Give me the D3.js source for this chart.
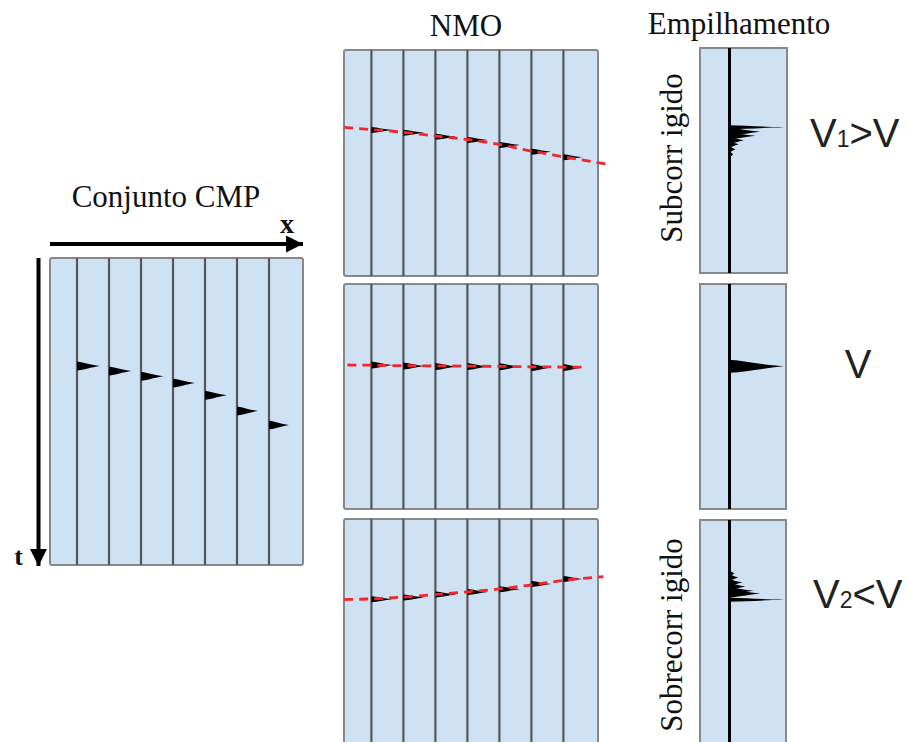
<!DOCTYPE html>
<html>
<head>
<meta charset="utf-8">
<script src="https://cdn.jsdelivr.net/npm/d3@7/dist/d3.min.js"></script>
<style>
  html, body { margin: 0; padding: 0; background: #ffffff; }
  svg { display: block; }
</style>
</head>
<body>
<svg id="chart" width="909" height="742"></svg>
<script>
// ---- Data -------------------------------------------------------------
// Trace numbers within each gather (offset order)
const traceIdx = [1, 2, 3, 4, 5, 6, 7];

// CMP gather: reflection arrival times (s) and wavelet amplitudes
const cmpTimes = [0.352, 0.368, 0.385, 0.407, 0.447, 0.498, 0.544];
const cmpAmps  = [0.42, 0.41, 0.41, 0.40, 0.40, 0.38, 0.36];

// NMO-corrected gathers (times in s) for the three stacking velocities
const nmoUnderTimes   = [0.354, 0.366, 0.384, 0.398, 0.420, 0.450, 0.475];
const nmoCorrectTimes = [0.360, 0.364, 0.367, 0.367, 0.368, 0.371, 0.371];
const nmoOverTimes    = [0.357, 0.349, 0.336, 0.324, 0.312, 0.289, 0.267];
const nmoAmps         = [0.38, 0.38, 0.38, 0.37, 0.37, 0.36, 0.34];

// Residual moveout guides (trace position, time in s)
const guideUnderX   = [0.15, 1, 2, 3, 4, 5, 6, 7, 8.5];
const guideUnderT   = [0.342, 0.352, 0.364, 0.381, 0.396, 0.418, 0.447, 0.472, 0.509];
const guideCorrectX = [0.25, 1, 2, 3, 4, 5, 6, 7, 7.65];
const guideCorrectT = [0.360, 0.361, 0.363, 0.364, 0.365, 0.366, 0.368, 0.369, 0.370];
const guideOverX    = [0.15, 1, 2, 3, 4, 5, 6, 7, 8.25];
const guideOverT    = [0.358, 0.355, 0.347, 0.336, 0.324, 0.311, 0.293, 0.273, 0.256];

// Stacked traces: component times (s), amplitudes and thickness
const stackUnderT   = [0.352, 0.372, 0.390, 0.410, 0.428, 0.450, 0.472];
const stackUnderA   = [1.00, 0.56, 0.47, 0.26, 0.17, 0.11, 0.07];
const stackUnderH   = [4, 8, 7, 7, 6, 6, 6];
const stackCorrectT = [0.366];
const stackCorrectA = [0.99];
const stackCorrectH = [13];
const stackOverT    = [0.354, 0.327, 0.314, 0.296, 0.278, 0.256, 0.238];
const stackOverA    = [1.00, 0.56, 0.44, 0.29, 0.24, 0.16, 0.09];
const stackOverH    = [4, 8, 7, 7, 6, 6, 6];

// ---- Drawing ----------------------------------------------------------
const svg = d3.select("#chart");
const PANEL_FILL = "#cfe2f3";
const PANEL_STROKE = "#85898d";
const TRACE_STROKE = "#52575c";
const SERIF = "'Liberation Serif', 'Times New Roman', serif";
const SANS = "'Liberation Sans', Arial, sans-serif";

const ampScale = d3.scaleLinear().domain([0, 1]).range([0, 55]);

// Wavelet glyph: filled lobe pointing to the right from the trace line
function waveletPath(x, y, len, h) {
  const p = d3.path();
  p.moveTo(x, y - h / 2);
  p.bezierCurveTo(x + len * 0.3, y - h * 0.4, x + len * 0.6, y - h * 0.12, x + len, y);
  p.bezierCurveTo(x + len * 0.6, y + h * 0.14, x + len * 0.3, y + h * 0.45, x, y + h / 2);
  p.closePath();
  return p.toString();
}

// A gather panel: box, trace lines, wavelets, optional guide
function gather(opt) {
  const g = svg.append("g");
  const y = d3.scaleLinear().domain([0, 1]).range([opt.y0, opt.y1]);
  const x = d3.scaleLinear().domain([1, 7]).range(opt.traceRange);

  g.append("rect")
    .attr("x", opt.x0).attr("y", opt.y0)
    .attr("width", opt.x1 - opt.x0).attr("height", opt.y1 - opt.y0)
    .attr("rx", 2).attr("ry", 2)
    .attr("fill", PANEL_FILL).attr("stroke", PANEL_STROKE).attr("stroke-width", 2);

  g.selectAll("line.trace").data(traceIdx).join("line")
    .attr("class", "trace")
    .attr("x1", d => x(d)).attr("x2", d => x(d))
    .attr("y1", opt.y0).attr("y2", opt.y1)
    .attr("stroke", TRACE_STROKE).attr("stroke-width", 2.2);

  g.selectAll("path.wavelet").data(traceIdx).join("path")
    .attr("class", "wavelet")
    .attr("d", (d, i) => waveletPath(x(d), y(opt.times[i]), ampScale(opt.amps[i]), opt.wh))
    .attr("fill", "#000");

  if (opt.guideX) {
    const pts = opt.guideX.map((gx, i) => [gx, opt.guideT[i]]);
    const line = d3.line().x(d => x(d[0])).y(d => y(d[1])).curve(d3.curveMonotoneX);
    g.append("path")
      .attr("d", line(pts))
      .attr("fill", "none")
      .attr("stroke", "#f5262b")
      .attr("stroke-width", 2.8)
      .attr("stroke-dasharray", "9,6");
  }
}

// A stacked-trace panel
function stackPanel(opt) {
  const g = svg.append("g");
  const y = d3.scaleLinear().domain([0, 1]).range([opt.y0, opt.y1]);
  const tx = opt.traceX;

  g.append("rect")
    .attr("x", opt.x0).attr("y", opt.y0)
    .attr("width", opt.x1 - opt.x0).attr("height", opt.y1 - opt.y0)
    .attr("fill", PANEL_FILL).attr("stroke", PANEL_STROKE).attr("stroke-width", 2);

  g.append("line")
    .attr("x1", tx).attr("x2", tx).attr("y1", opt.y0).attr("y2", opt.y1)
    .attr("stroke", "#000").attr("stroke-width", 3);

  g.selectAll("path.spike").data(opt.times).join("path")
    .attr("class", "spike")
    .attr("d", (t, i) => waveletPath(tx, y(t), ampScale(opt.amps[i]), opt.heights[i]))
    .attr("fill", "#000");
}

// CMP gather
gather({
  x0: 50, x1: 303, y0: 258, y1: 565,
  traceRange: [77, 269],
  times: cmpTimes, amps: cmpAmps, wh: 9
});

// NMO gathers
const nmoBoxes = [[50, 276], [284, 509], [519, 744]];
gather({ x0: 344, x1: 598, y0: nmoBoxes[0][0], y1: nmoBoxes[0][1], traceRange: [371.4, 563.4],
  times: nmoUnderTimes, amps: nmoAmps, wh: 6, guideX: guideUnderX, guideT: guideUnderT });
gather({ x0: 344, x1: 598, y0: nmoBoxes[1][0], y1: nmoBoxes[1][1], traceRange: [371.4, 563.4],
  times: nmoCorrectTimes, amps: nmoAmps, wh: 7, guideX: guideCorrectX, guideT: guideCorrectT });
gather({ x0: 344, x1: 598, y0: nmoBoxes[2][0], y1: nmoBoxes[2][1], traceRange: [371.4, 563.4],
  times: nmoOverTimes, amps: nmoAmps, wh: 6, guideX: guideOverX, guideT: guideOverT });

// Stacked traces
stackPanel({ x0: 700, x1: 787, y0: 48, y1: 273, traceX: 729.5,
  times: stackUnderT, amps: stackUnderA, heights: stackUnderH });
stackPanel({ x0: 700, x1: 786, y0: 284, y1: 509, traceX: 729.5,
  times: stackCorrectT, amps: stackCorrectA, heights: stackCorrectH });
stackPanel({ x0: 700, x1: 786, y0: 520, y1: 745, traceX: 729.5,
  times: stackOverT, amps: stackOverA, heights: stackOverH });

// Axis arrows for the CMP gather
const defs = svg.append("defs");
defs.append("marker")
  .attr("id", "head").attr("viewBox", "0 0 10 10")
  .attr("refX", 10).attr("refY", 5)
  .attr("markerUnits", "userSpaceOnUse")
  .attr("markerWidth", 26).attr("markerHeight", 17)
  .attr("orient", "auto")
  .append("path").attr("d", "M0,0 L10,5 L0,10 Z").attr("fill", "#000");

svg.append("line")
  .attr("x1", 50).attr("y1", 244).attr("x2", 303).attr("y2", 244)
  .attr("stroke", "#000").attr("stroke-width", 4)
  .attr("marker-end", "url(#head)");
svg.append("line")
  .attr("x1", 38.5).attr("y1", 258).attr("x2", 38.5).attr("y2", 566)
  .attr("stroke", "#000").attr("stroke-width", 4)
  .attr("marker-end", "url(#head)");

// Labels
function label(txt, x, y, size, family, opts = {}) {
  const t = svg.append("text")
    .attr("x", x).attr("y", y)
    .attr("font-family", family).attr("font-size", size)
    .attr("fill", opts.fill || "#111")
    .attr("text-anchor", opts.anchor || "middle")
    .attr("font-weight", opts.weight || "normal")
    .text(txt);
  if (opts.rotate) t.attr("transform", `rotate(${opts.rotate},${x},${y})`);
  return t;
}

label("Conjunto CMP", 166, 207, 31, SERIF);
label("NMO", 466, 36, 31, SERIF);
label("Empilhamento", 739, 34, 31, SERIF);
label("x", 287, 233, 28, SERIF, { weight: "bold" });
label("t", 23, 565, 26, SERIF, { weight: "bold", anchor: "end" });
label("Subcorr igido", 682, 158, 31, SERIF, { rotate: -90 });
label("Sobrecorr igido", 682, 635, 31, SERIF, { rotate: -90 });

// Velocity annotations
function velLabel(parts, x, y, anchor) {
  const t = svg.append("text")
    .attr("x", x).attr("y", y)
    .attr("font-family", SANS).attr("font-size", 40)
    .attr("fill", "#222").attr("text-anchor", anchor);
  parts.forEach(p => t.append("tspan").attr("font-size", p.small ? 23 : 40).text(p.s));
}
velLabel([{ s: "V" }, { s: "1", small: true }, { s: ">V" }], 810, 147, "start");
velLabel([{ s: "V" }], 858, 378, "middle");
velLabel([{ s: "V" }, { s: "2", small: true }, { s: "<V" }], 813, 608, "start");
</script>
</body>
</html>
